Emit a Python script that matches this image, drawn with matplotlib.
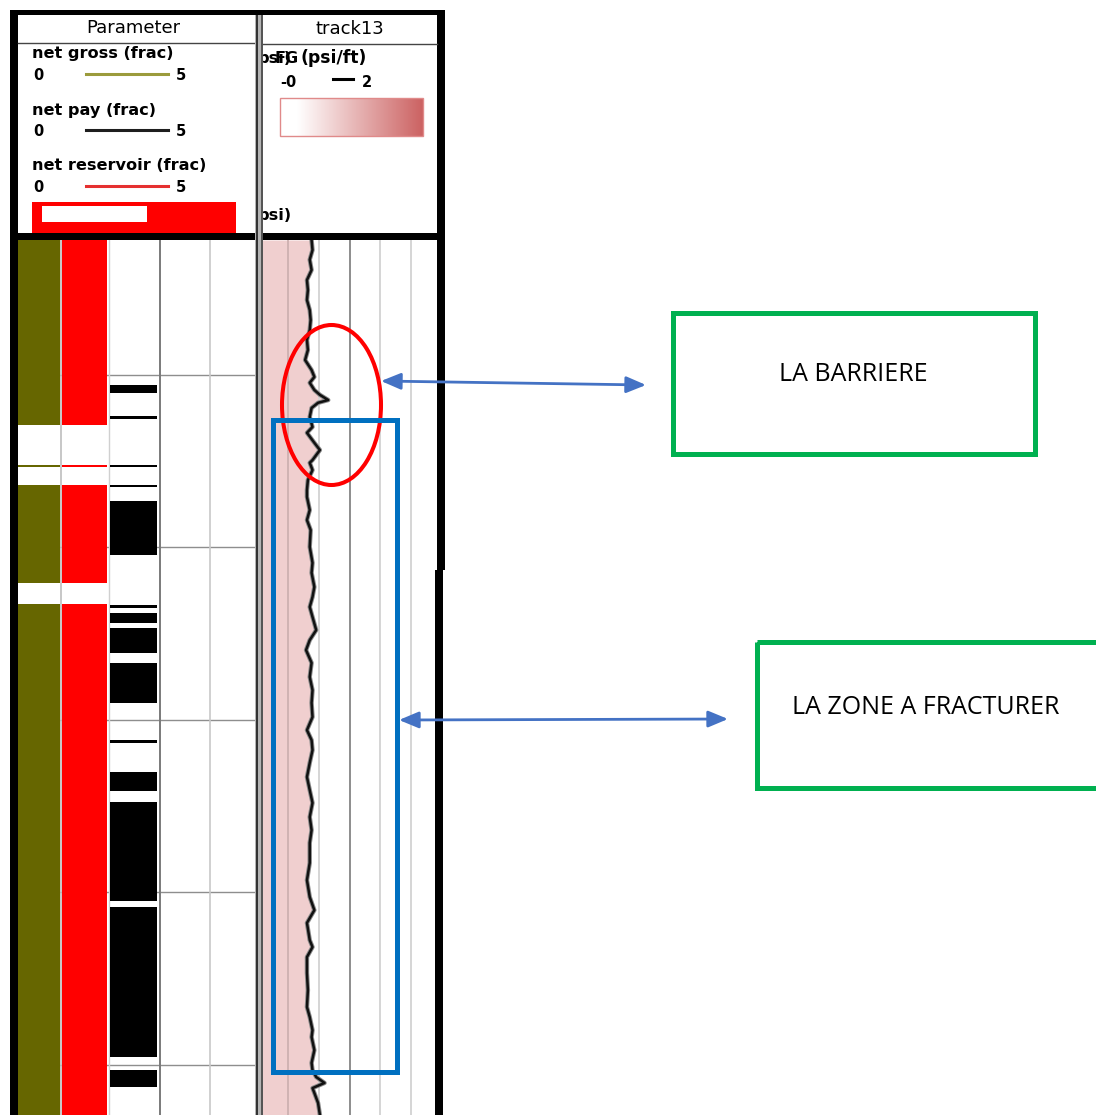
import numpy as np
import matplotlib
matplotlib.use("Agg")
import matplotlib.pyplot as plt
from matplotlib.patches import Ellipse, Rectangle
from matplotlib.colors import LinearSegmentedColormap

W, H = 1096, 1115

# displayed depth window (ft) and depth grid
depth_top, depth_base = 2460.9, 2714.6
grid_depths = [2500, 2550, 2600, 2650, 2700]

# net gross flag (frac) intervals
ng_top = [2460.9, 2526.1, 2531.9, 2566.4]
ng_base = [2514.5, 2526.7, 2560.3, 2714.6]

# net reservoir flag (frac) intervals
nr_top = [2460.9, 2526.1, 2531.9, 2566.4]
nr_base = [2514.5, 2526.7, 2560.3, 2714.6]

# net pay flag (frac) intervals
np_top = [2502.9, 2511.9, 2526.1, 2531.9, 2536.5, 2566.7, 2569.0, 2573.4,
          2583.5, 2605.9, 2615.1, 2623.8, 2654.3, 2701.6]
np_base = [2505.2, 2512.8, 2526.7, 2532.5, 2552.2, 2567.6, 2571.9, 2580.6,
           2595.1, 2606.7, 2620.6, 2652.5, 2697.8, 2706.5]

# FG curve (psi/ft) vs depth
fg_depth = [2460.9, 2463.8, 2466.6, 2469.6, 2472.5, 2475.4, 2478.3, 2481.2,
            2484.1, 2487.0, 2489.9, 2492.8, 2495.7, 2498.6, 2500.6, 2502.3,
            2504.4, 2505.8, 2507.3, 2508.1, 2509.6, 2512.2, 2515.1, 2516.8,
            2519.7, 2521.8, 2524.7, 2525.5, 2527.6, 2530.5, 2533.4, 2535.4,
            2539.2, 2542.1, 2545.0, 2549.9, 2554.5, 2557.4, 2561.5, 2564.4,
            2567.3, 2570.2, 2574.0, 2576.9, 2579.8, 2583.5, 2587.6, 2591.4,
            2595.1, 2599.2, 2603.0, 2605.9, 2608.8, 2612.5, 2616.6, 2620.4,
            2624.1, 2628.2, 2632.0, 2635.7, 2641.5, 2646.5, 2651.4, 2655.2,
            2658.9, 2663.9, 2665.9, 2668.8, 2673.4, 2678.4, 2683.3, 2686.2,
            2690.0, 2692.0, 2695.8, 2699.5, 2701.6, 2703.6, 2705.3, 2706.8,
            2708.2, 2711.1, 2714.6]
fg_value = [0.59, 0.60, 0.57, 0.59, 0.54, 0.55, 0.54, 0.57,
            0.58, 0.57, 0.54, 0.55, 0.52, 0.59, 0.62, 0.57,
            0.62, 0.68, 0.77, 0.66, 0.59, 0.57, 0.60, 0.54,
            0.62, 0.68, 0.60, 0.57, 0.60, 0.55, 0.54, 0.54,
            0.57, 0.54, 0.58, 0.57, 0.60, 0.59, 0.62, 0.60,
            0.57, 0.60, 0.64, 0.57, 0.53, 0.59, 0.57, 0.60,
            0.59, 0.60, 0.54, 0.59, 0.60, 0.57, 0.54, 0.57,
            0.60, 0.57, 0.59, 0.57, 0.57, 0.54, 0.57, 0.62,
            0.54, 0.57, 0.60, 0.54, 0.54, 0.55, 0.54, 0.57,
            0.60, 0.59, 0.62, 0.59, 0.60, 0.64, 0.73, 0.60,
            0.62, 0.66, 0.68]

fig = plt.figure(figsize=(W / 100, H / 100), dpi=100)


# axes placed with pixel box (top-left origin)
def px_axes(x0, y0, x1, y1):
    ax = fig.add_axes([x0 / W, 1 - y1 / H, (x1 - x0) / W, (y1 - y0) / H])
    ax.set_xticks([])
    ax.set_yticks([])
    for s in ax.spines.values():
        s.set_visible(False)
    return ax


# ---- left track: net flags ----
axl = px_axes(18, 240, 255, 1115)
axl.set_xlim(0, 1)
axl.set_ylim(depth_base, depth_top)

for d in grid_depths:
    axl.plot([0.177, 1], [d, d], color="#8e8e8e", lw=1.0, zorder=1)
axl.axvline(0.181, color="#bdbdbd", lw=1.2, zorder=1)
axl.axvline(0.383, color="#d0d0d0", lw=1.0, zorder=1)
axl.axvline(0.599, color="#7a7a7a", lw=1.4, zorder=1)
axl.axvline(0.810, color="#c8c8c8", lw=1.2, zorder=1)

for t, b in zip(ng_top, ng_base):
    axl.fill_betweenx([t, b], 0.0, 0.177, color="#666600", lw=0, zorder=2)
for t, b in zip(nr_top, nr_base):
    axl.fill_betweenx([t, b], 0.186, 0.376, color="#ff0000", lw=0, zorder=2)
for t, b in zip(np_top, np_base):
    axl.fill_betweenx([t, b], 0.388, 0.586, color="black", lw=0, zorder=2)

# ---- right track: FG ----
axr = px_axes(257, 240, 442, 1115)
axr.set_xlim(0, 2)
axr.set_ylim(depth_base, depth_top)
axr.fill_betweenx(fg_depth, 0, fg_value, color="#f0cfcf", lw=0, zorder=1)
for v, c in [(1 / 3, "#cdb0b0"), (2 / 3, "#d2d2d2"), (1.0, "#858585"),
             (4 / 3, "#d2d2d2"), (5 / 3, "#d2d2d2")]:
    axr.axvline(v, color=c, lw=1.3, zorder=2)
# soft halo then the curve itself
axr.plot(fg_value, fg_depth, color="#8a8a8a", lw=3.2, zorder=3,
         solid_joinstyle="round")
axr.plot(fg_value, fg_depth, color="#111111", lw=1.8, zorder=4,
         solid_joinstyle="round")

# ---- overlay in pixel coords: frame, header, annotations ----
ov = fig.add_axes([0, 0, 1, 1])
ov.set_zorder(10)
ov.patch.set_alpha(0)
ov.axis("off")

# frame
for (x, y, w, h, c) in [(10, 10, 435, 5, "black"), (10, 10, 8, 1105, "black"),
                        (10, 233, 435, 7, "black"), (437, 10, 8, 560, "black"),
                        (435, 570, 8, 545, "black")]:
    ov.add_patch(Rectangle((x, y), w, h, color=c, lw=0))
ov.plot([18, 255], [43, 43], color="#444444", lw=1)
ov.plot([263, 437], [43.5, 43.5], color="#444444", lw=1)

# left header
ov.text(133, 33, "Parameter", ha="center", va="baseline", fontsize=13)
legend_rows = [("net gross (frac)", "#9b9b3c", 58, 80),
               ("net pay (frac)", "#1e1e1e", 115, 136),
               ("net reservoir (frac)", "#e53030", 170, 192)]
for label, col, yl, yd in legend_rows:
    ov.text(32, yl, label, fontsize=11.6, fontweight="bold", va="baseline")
    ov.text(33, yd, "0", fontsize=10.5, fontweight="bold", va="baseline")
    ov.text(176, yd, "5", fontsize=10.5, fontweight="bold", va="baseline")
    ov.plot([86, 168], [yd - 6, yd - 6], color=col, lw=2.2)
ov.add_patch(Rectangle((32, 202), 204, 31, color="#ff0000", lw=0))
ov.add_patch(Rectangle((42, 206), 105, 16, color="white", lw=0))

# right header
ov.text(350, 34, "track13", ha="center", va="baseline", fontsize=13)
ov.text(258, 63, "psi)", fontsize=11.6, fontweight="bold", va="baseline")
ov.text(275, 63, "FG", fontsize=11.6, fontweight="bold", va="baseline")
ov.text(301, 63, "(psi/ft)", fontsize=12.4, fontweight="bold", va="baseline")
ov.text(280, 87, "-0", fontsize=10.5, fontweight="bold", va="baseline")
ov.text(362, 87, "2", fontsize=10.5, fontweight="bold", va="baseline")
ov.plot([333, 353], [79, 79], color="black", lw=2.2)
grad = np.linspace(0, 1, 256).reshape(1, -1)
cmap = LinearSegmentedColormap.from_list(
    "fg", [(0, "white"), (0.12, "white"), (1, "#cc6262")])
ov.imshow(grad, extent=(280, 423, 136, 98), cmap=cmap, aspect="auto", zorder=2)
ov.add_patch(Rectangle((280, 98), 143, 38, fill=False, ec="#e08a8a", lw=1, zorder=3))
ov.text(258, 220, "psi)", fontsize=11.6, fontweight="bold", va="baseline")
# track divider drawn over the clipped header text
ov.add_patch(Rectangle((255, 15), 8, 1100, color="#b4b4b4", lw=0, zorder=4))
ov.add_patch(Rectangle((255.5, 15), 2.5, 1100, color="#333333", lw=0, zorder=4))
ov.add_patch(Rectangle((260.5, 15), 2.5, 1100, color="#555555", lw=0, zorder=4))

# annotations
ov.add_patch(Ellipse((331.5, 405), 99, 160, fill=False, ec="red", lw=2.9, zorder=5))
ov.add_patch(Rectangle((272.5, 420), 124, 652, fill=False, ec="#0070c0", lw=3.6, zorder=5))
ov.add_patch(Rectangle((672.5, 312.5), 362, 141, fill=False, ec="#00b050", lw=3.6))
ov.add_patch(Rectangle((757, 642), 400, 146, fill=False, ec="#00b050", lw=3.6))
ov.text(853, 381, "LA BARRIERE", family="Open Sans", fontsize=18,
        ha="center", va="baseline")
ov.text(792, 714, "LA ZONE A FRACTURER", family="Open Sans", fontsize=18,
        ha="left", va="baseline")
arrow = dict(arrowstyle="<|-|>,head_length=0.6,head_width=0.25", color="#4472c4",
             lw=2, shrinkA=0, shrinkB=0, mutation_scale=20)
ov.annotate("", xy=(646, 385), xytext=(381, 381), arrowprops=arrow, zorder=6)
ov.annotate("", xy=(728, 719), xytext=(399, 720), arrowprops=arrow, zorder=6)

ov.set_xlim(0, W)
ov.set_ylim(H, 0)

fig.savefig("out.png", dpi=100)
